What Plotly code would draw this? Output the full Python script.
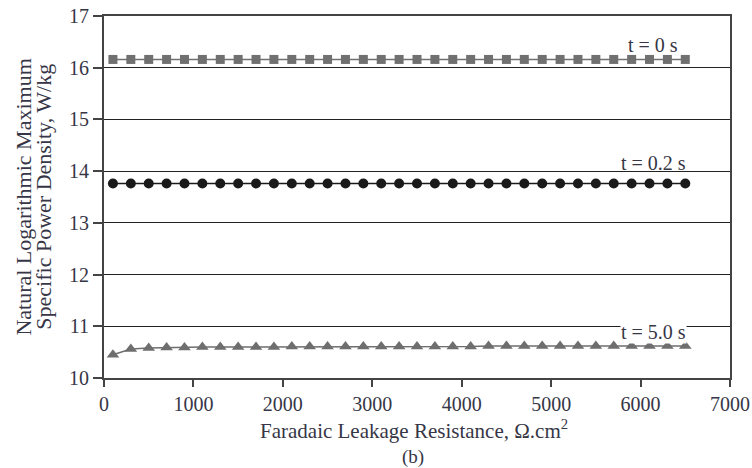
import plotly.graph_objects as go

# Faradaic leakage resistance (ohm.cm^2)
resistance = [100, 300, 500, 700, 900, 1100, 1300, 1500, 1700, 1900, 2100,
              2300, 2500, 2700, 2900, 3100, 3300, 3500, 3700, 3900, 4100,
              4300, 4500, 4700, 4900, 5100, 5300, 5500, 5700, 5900, 6100,
              6300, 6500]

# ln(max specific power density) for each pulse time
ln_p_t0 = [16.16] * 33
ln_p_t02 = [13.76] * 33
ln_p_t5 = [10.45, 10.56, 10.58, 10.59, 10.59, 10.60, 10.60, 10.60, 10.60,
           10.60, 10.61, 10.61, 10.61, 10.61, 10.61, 10.61, 10.61, 10.61,
           10.61, 10.61, 10.61, 10.62, 10.62, 10.62, 10.62, 10.62, 10.62,
           10.62, 10.62, 10.62, 10.62, 10.62, 10.62]

series_labels = ["t = 0 s", "t = 0.2 s", "t = 5.0 s"]
label_x = [6140, 6140, 6140]
label_y = [16.44, 14.15, 10.89]

x_ticks = [0, 1000, 2000, 3000, 4000, 5000, 6000, 7000]
y_ticks = [10, 11, 12, 13, 14, 15, 16, 17]

x_title = "Faradaic Leakage Resistance, Ω.cm<sup>2</sup>"
y_title_lines = ["Natural Logarithmic Maximum", "Specific Power Density, W/kg"]
panel_tag = "(b)"

FONT = "Liberation Serif"
TXT = "#363646"
AXIS = "#444444"

fig = go.Figure()
fig.add_trace(go.Scatter(
    x=resistance, y=ln_p_t0, mode="lines+markers",
    line=dict(color="#707070", width=1.5),
    marker=dict(symbol="square", size=9, color="#707070"),
))
fig.add_trace(go.Scatter(
    x=resistance, y=ln_p_t02, mode="lines+markers",
    line=dict(color="#1a1a1a", width=1.5),
    marker=dict(symbol="circle", size=10, color="#1a1a1a"),
))
fig.add_trace(go.Scatter(
    x=resistance, y=ln_p_t5, mode="lines+markers",
    line=dict(color="#6e6e6e", width=1.5),
    marker=dict(symbol="triangle-up", size=11, color="#6e6e6e"),
))

# series labels
for i, (lx, ly, txt) in enumerate(zip(label_x, label_y, series_labels)):
    fig.add_annotation(
        x=lx, y=ly, text=txt, showarrow=False,
        xanchor="center", yanchor="middle",
        font=dict(family=FONT, size=20, color=TXT),
        bgcolor="white" if i == 2 else "rgba(0,0,0,0)",
        borderpad=0,
    )

# axis titles and panel tag
fig.add_annotation(
    x=0.495, y=-0.142, xref="paper", yref="paper", text=x_title,
    xanchor="center", yanchor="middle",
    showarrow=False, font=dict(family=FONT, size=21, color=TXT),
)
fig.add_annotation(
    x=0.494, y=-0.217, xref="paper", yref="paper", text=panel_tag,
    xanchor="center", yanchor="middle",
    showarrow=False, font=dict(family=FONT, size=19, color=TXT),
)
for px, line in zip([-0.130, -0.098], y_title_lines):
    fig.add_annotation(
        x=px, y=0.5, xref="paper", yref="paper", text=line,
        xanchor="center", yanchor="middle",
        textangle=-90, showarrow=False,
        font=dict(family=FONT, size=22, color=TXT),
    )

fig.update_layout(
    width=752, height=468,
    margin=dict(l=104, r=22, t=16, b=90),
    paper_bgcolor="white", plot_bgcolor="white",
    showlegend=False,
    font=dict(family=FONT, color=TXT),
)
fig.update_xaxes(
    range=[0, 7000], tickvals=x_ticks, automargin=False,
    showgrid=False, zeroline=False,
    showline=True, linecolor=AXIS, linewidth=2, mirror=True,
    ticks="outside", ticklen=7, tickwidth=2, tickcolor=AXIS,
    tickfont=dict(family=FONT, size=20, color=TXT),
)
fig.update_yaxes(
    range=[10, 17], tickvals=y_ticks, automargin=False,
    showgrid=True, gridcolor="#222222", gridwidth=1.2, zeroline=False,
    showline=True, linecolor=AXIS, linewidth=2, mirror=True,
    ticks="outside", ticklen=9, tickwidth=1.5, tickcolor=AXIS,
    tickfont=dict(family=FONT, size=20, color=TXT),
)

fig.write_html("out.html")
